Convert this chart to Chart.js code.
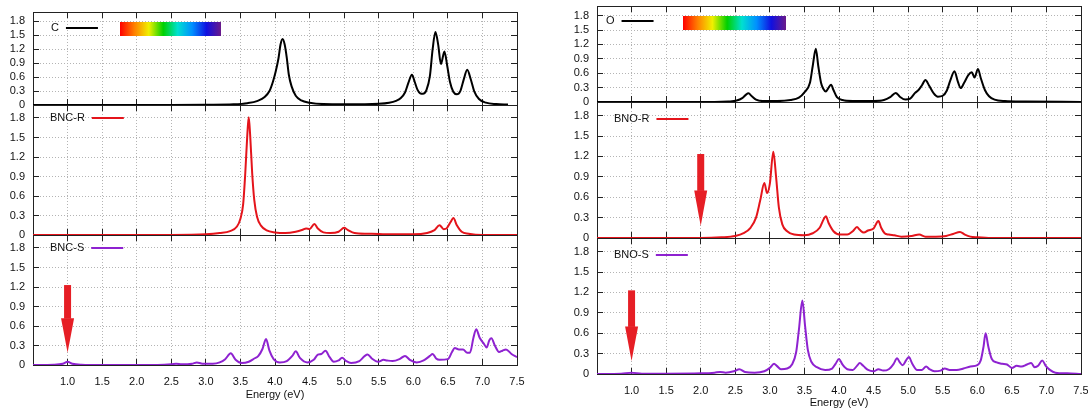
<!DOCTYPE html>
<html><head><meta charset="utf-8">
<script src="https://cdn.jsdelivr.net/npm/chart.js@4.4.1/dist/chart.umd.min.js"></script>
<style>
html,body{margin:0;padding:0;background:#fff;width:1088px;height:412px;overflow:hidden;position:relative}
canvas{position:absolute}
</style></head><body>
<canvas id="c1"></canvas><canvas id="c2"></canvas><canvas id="c3"></canvas>
<canvas id="c4"></canvas><canvas id="c5"></canvas><canvas id="c6"></canvas>
<script>
// ---------- data ----------
const xTicks = [0.5,1.0,1.5,2.0,2.5,3.0,3.5,4.0,4.5,5.0,5.5,6.0,6.5,7.0,7.5];
const yTicks = [0,0.3,0.6,0.9,1.2,1.5,1.8];

// C
const cE = [0.5,2.5,3.0,3.4,3.6,3.75,3.85,3.92,3.97,4.01,4.05,4.08,4.11,4.14,4.17,4.2,4.24,4.3,4.38,4.5,4.7,5.0,5.3,5.5,5.65,5.75,5.82,5.88,5.93,5.98,6.02,6.06,6.1,6.14,6.19,6.24,6.28,6.32,6.36,6.4,6.45,6.49,6.53,6.58,6.63,6.68,6.73,6.78,6.83,6.88,6.95,7.05,7.2,7.37];
const cI = [0,0,0.005,0.015,0.04,0.09,0.17,0.3,0.5,0.72,1.0,1.3,1.42,1.3,1.02,0.65,0.4,0.2,0.1,0.05,0.02,0.015,0.015,0.025,0.05,0.09,0.15,0.27,0.48,0.65,0.5,0.33,0.25,0.24,0.32,0.62,1.2,1.57,1.3,0.88,1.15,0.85,0.5,0.28,0.23,0.3,0.55,0.76,0.56,0.3,0.13,0.05,0.02,0.01];
// BNC-R
const bncrE = [0.5,2.5,3.0,3.2,3.35,3.45,3.5,3.54,3.57,3.6,3.62,3.64,3.67,3.7,3.74,3.8,3.88,4.0,4.15,4.3,4.4,4.45,4.5,4.57,4.62,4.7,4.8,4.92,5.0,5.05,5.15,5.3,5.4,5.6,6.0,6.2,6.3,6.38,6.44,6.48,6.54,6.58,6.63,6.7,6.8,7.0,7.5];
const bncrI = [0,0,0.01,0.03,0.06,0.13,0.25,0.48,0.95,1.55,1.81,1.55,0.95,0.54,0.28,0.14,0.07,0.04,0.03,0.05,0.08,0.1,0.09,0.17,0.1,0.04,0.03,0.05,0.11,0.08,0.03,0.02,0.02,0.01,0.01,0.03,0.07,0.15,0.09,0.1,0.2,0.26,0.15,0.05,0.02,0,0];
// BNC-S
const bncsE = [0.5,0.8,0.93,1.0,1.07,1.2,1.5,2.3,2.5,2.57,2.65,2.8,2.87,2.95,3.1,3.2,3.28,3.36,3.43,3.52,3.62,3.7,3.76,3.82,3.87,3.92,3.98,4.07,4.17,4.25,4.3,4.36,4.47,4.56,4.62,4.67,4.73,4.79,4.85,4.92,4.97,5.03,5.1,5.22,5.3,5.34,5.4,5.49,5.57,5.62,5.7,5.8,5.88,5.95,6.05,6.15,6.24,6.28,6.33,6.38,6.5,6.56,6.6,6.66,6.72,6.78,6.82,6.87,6.91,6.96,7.02,7.06,7.1,7.13,7.18,7.24,7.29,7.34,7.42,7.5];
const bncsI = [0,0.005,0.02,0.05,0.02,0.005,0,0,0.01,0.02,0.01,0.02,0.04,0.02,0.02,0.04,0.09,0.18,0.08,0.03,0.05,0.1,0.14,0.25,0.4,0.22,0.09,0.04,0.06,0.14,0.21,0.11,0.04,0.08,0.16,0.17,0.22,0.12,0.05,0.07,0.11,0.06,0.03,0.06,0.14,0.16,0.1,0.05,0.08,0.07,0.06,0.09,0.14,0.08,0.04,0.07,0.14,0.17,0.1,0.08,0.09,0.2,0.26,0.24,0.24,0.19,0.19,0.42,0.55,0.42,0.33,0.27,0.38,0.41,0.3,0.2,0.22,0.24,0.17,0.12];
// O
const oE = [0.5,2.2,2.4,2.52,2.6,2.66,2.69,2.74,2.8,2.9,3.1,3.3,3.42,3.5,3.58,3.62,3.665,3.7,3.74,3.77,3.81,3.85,3.885,3.92,3.97,4.05,4.2,4.5,4.65,4.74,4.82,4.88,4.96,5.03,5.1,5.15,5.2,5.25,5.3,5.37,5.43,5.5,5.56,5.61,5.67,5.72,5.76,5.81,5.87,5.92,5.96,6.01,6.05,6.11,6.17,6.25,6.4,6.7,7.5];
const oI = [0,0,0.01,0.03,0.08,0.16,0.18,0.12,0.05,0.02,0.02,0.04,0.09,0.2,0.4,0.75,1.11,0.75,0.4,0.28,0.22,0.3,0.36,0.25,0.1,0.04,0.02,0.02,0.04,0.1,0.19,0.11,0.05,0.07,0.19,0.25,0.35,0.46,0.35,0.18,0.11,0.13,0.24,0.45,0.64,0.42,0.29,0.4,0.56,0.62,0.51,0.69,0.5,0.25,0.12,0.05,0.02,0.01,0];
// BNO-R
const bnorE = [0.5,2.0,2.3,2.5,2.62,2.72,2.8,2.86,2.92,2.96,3.0,3.05,3.09,3.13,3.18,3.25,3.35,3.5,3.62,3.72,3.78,3.81,3.85,3.92,4.02,4.12,4.2,4.26,4.3,4.36,4.42,4.5,4.57,4.61,4.66,4.72,4.8,4.9,5.05,5.16,5.25,5.4,5.55,5.65,5.75,5.82,5.9,6.0,6.2,7.5];
const bnorI = [0,0,0.01,0.03,0.07,0.15,0.3,0.55,0.81,0.66,0.8,1.27,0.9,0.45,0.2,0.1,0.05,0.04,0.07,0.15,0.28,0.32,0.22,0.1,0.05,0.05,0.1,0.16,0.12,0.08,0.11,0.14,0.25,0.15,0.07,0.05,0.04,0.02,0.03,0.05,0.02,0.02,0.03,0.06,0.09,0.05,0.02,0.01,0,0];
// BNO-S
const bnosE = [0.5,0.85,1.0,1.15,1.5,2.0,2.2,2.28,2.36,2.48,2.56,2.64,2.78,2.92,3.0,3.06,3.1,3.16,3.25,3.32,3.38,3.42,3.47,3.51,3.55,3.6,3.68,3.8,3.9,3.95,4.0,4.05,4.12,4.2,4.26,4.3,4.35,4.42,4.5,4.57,4.64,4.72,4.79,4.84,4.88,4.92,4.97,5.01,5.06,5.13,5.2,5.26,5.31,5.38,5.47,5.53,5.6,5.7,5.8,5.9,6.0,6.05,6.09,6.12,6.16,6.21,6.28,6.36,6.43,6.5,6.57,6.64,6.72,6.78,6.83,6.88,6.94,6.99,7.05,7.13,7.3,7.5];
const bnosI = [0,0.005,0.02,0.005,0.005,0.01,0.02,0.03,0.02,0.04,0.07,0.03,0.02,0.04,0.09,0.15,0.12,0.07,0.08,0.14,0.32,0.65,1.08,0.7,0.35,0.18,0.1,0.06,0.08,0.15,0.22,0.14,0.07,0.06,0.12,0.16,0.12,0.06,0.04,0.07,0.05,0.07,0.15,0.23,0.17,0.13,0.2,0.25,0.15,0.06,0.06,0.11,0.07,0.04,0.05,0.08,0.06,0.06,0.08,0.11,0.13,0.2,0.4,0.6,0.4,0.22,0.17,0.15,0.14,0.09,0.12,0.11,0.14,0.16,0.1,0.12,0.2,0.12,0.06,0.02,0.01,0];

// ---------- layout ----------
const FONT = '"Liberation Sans",Arial,Helvetica,sans-serif';
const FS = 11;
const YW = 33, PT = 10, PR = 8;
const RAINBOW = ['#ff0000','#ff8000','#f0f000','#00d000','#00e0d0','#0090ff','#1010e0','#6a1a8a'];

const PANELS = [
  {id:'c1', left:33, top:12, w:484, h:93, bottom:false, E:cE, I:cI, color:'#000000', name:'C', ldx:18, ldy:16, bar:{dx:87,dy:10,w:101,h:14}},
  {id:'c2', left:33, top:105, w:484, h:130, bottom:false, E:bncrE, I:bncrI, color:'#e4141b', name:'BNC-R', ldx:17, ldy:13},
  {id:'c3', left:33, top:235, w:484, h:130, bottom:true, E:bncsE, I:bncsI, color:'#8e22d0', name:'BNC-S', ldx:17, ldy:13, arrow:{x:1.0,top:1.23,head:0.72,tip:0.19}, tpad:8},
  {id:'c4', left:597, top:6, w:484, h:96, bottom:false, E:oE, I:oI, color:'#000000', name:'O', ldx:9, ldy:15, bar:{dx:86,dy:10,w:103,h:14}},
  {id:'c5', left:597, top:102, w:484, h:136, bottom:false, E:bnorE, I:bnorI, color:'#e4141b', name:'BNO-R', ldx:17, ldy:17, arrow:{x:2.0,top:1.235,head:0.70,tip:0.175}},
  {id:'c6', left:597, top:238, w:484, h:136, bottom:true, E:bnosE, I:bnosI, color:'#8e22d0', name:'BNO-S', ldx:17, ldy:17, arrow:{x:1.0,top:1.23,head:0.70,tip:0.19}, tpad:9}
];

const decoPlugin = {
  id: 'deco',
  afterDatasetsDraw(chart) {
    const p = chart.options.plugins.deco;
    const ctx = chart.ctx, a = chart.chartArea;
    ctx.save();
    // legend
    ctx.font = FS + 'px ' + FONT;
    ctx.fillStyle = '#111';
    ctx.textBaseline = 'middle';
    ctx.textAlign = 'left';
    const tx = a.left + p.ldx, ty = a.top + p.ldy;
    ctx.fillText(p.name, tx, ty);
    const tw = ctx.measureText(p.name).width;
    ctx.strokeStyle = p.color; ctx.lineWidth = 2;
    ctx.beginPath(); ctx.moveTo(tx + tw + 7, ty); ctx.lineTo(tx + tw + 39, ty); ctx.stroke();
    // colour bar
    if (p.bar) {
      const b = p.bar;
      const g = ctx.createLinearGradient(a.left + b.dx, 0, a.left + b.dx + b.w, 0);
      RAINBOW.forEach((c, i) => g.addColorStop(i / (RAINBOW.length - 1), c));
      ctx.fillStyle = g;
      ctx.fillRect(a.left + b.dx, a.top + b.dy, b.w, b.h);
    }
    // arrow
    if (p.arrow) {
      const r = p.arrow, xs = chart.scales.x, ys = chart.scales.y;
      const cx = xs.getPixelForValue(r.x);
      const y0 = ys.getPixelForValue(r.top), y1 = ys.getPixelForValue(r.head), y2 = ys.getPixelForValue(r.tip);
      ctx.fillStyle = '#e61e25';
      ctx.fillRect(cx - 3.5, y0, 7, y1 - y0 + 0.5);
      ctx.beginPath(); ctx.moveTo(cx - 6.5, y1); ctx.lineTo(cx + 6.5, y1); ctx.lineTo(cx, y2); ctx.closePath(); ctx.fill();
    }
    ctx.restore();
  }
};

function gridOpts(onArea) {
  return {drawOnChartArea: onArea, color: '#b4b4b4', lineWidth: 1, tickLength: -6, tickColor: '#222', tickWidth: 1, tickBorderDash: []};
}
const borderOpts = {display: true, color: '#222', width: 1, dash: [1, 2]};

PANELS.forEach(P => {
  const XH = P.bottom ? 45 : 10;
  const cv = document.getElementById(P.id);
  const W = YW + P.w + PR, H = PT + P.h + XH;
  cv.width = W; cv.height = H;
  cv.style.left = (P.left - YW) + 'px';
  cv.style.top = (P.top - PT) + 'px';
  cv.style.width = W + 'px'; cv.style.height = H + 'px';
  const pts = P.E.map((e, i) => ({x: e, y: P.I[i]}));
  new Chart(cv, {
    type: 'line',
    data: {datasets: [{data: pts, borderColor: P.color, borderWidth: 2, pointRadius: 0, fill: false, cubicInterpolationMode: 'monotone'}]},
    options: {
      responsive: false, animation: false, events: [],
      layout: {padding: {top: PT, right: PR, left: 0, bottom: 0}},
      plugins: {legend: {display: false}, tooltip: {enabled: false},
        deco: {name: P.name, color: P.color, ldx: P.ldx, ldy: P.ldy, bar: P.bar, arrow: P.arrow}},
      scales: {
        x: {type: 'linear', position: 'bottom', min: 0.5, max: 7.5,
          afterBuildTicks: s => { s.ticks = xTicks.map(v => ({value: v})); },
          afterFit: s => { s.height = XH; s.paddingLeft = 0; s.paddingRight = 0; },
          grid: gridOpts(true), border: borderOpts,
          ticks: {display: P.bottom, padding: 16, color: '#111', autoSkip: false, maxRotation: 0,
            font: {family: FONT, size: FS},
            callback: v => (v === 0.5 ? '' : Number(v).toFixed(1))},
          title: {display: P.bottom, text: 'Energy (eV)', color: '#111', font: {family: FONT, size: FS}, padding: {top: 0, bottom: P.tpad || 8}}
        },
        x2: {type: 'linear', position: 'top', min: 0.5, max: 7.5,
          afterBuildTicks: s => { s.ticks = xTicks.map(v => ({value: v})); },
          afterFit: s => { s.height = 0; s.paddingLeft = 0; s.paddingRight = 0; },
          grid: gridOpts(false), border: borderOpts, ticks: {display: false}
        },
        y: {type: 'linear', position: 'left', min: 0, max: 2.0,
          afterBuildTicks: s => { s.ticks = yTicks.map(v => ({value: v})); },
          afterFit: s => { s.width = YW; s.paddingTop = 0; s.paddingBottom = 0; },
          grid: gridOpts(true), border: borderOpts,
          ticks: {padding: 14, color: '#111', autoSkip: false, font: {family: FONT, size: FS},
            callback: v => (v === 0 ? '0' : Number(v).toFixed(1))}
        },
        y2: {type: 'linear', position: 'right', min: 0, max: 2.0,
          afterBuildTicks: s => { s.ticks = yTicks.map(v => ({value: v})); },
          afterFit: s => { s.width = 0; s.paddingTop = 0; s.paddingBottom = 0; },
          grid: gridOpts(false), border: borderOpts, ticks: {display: false, autoSkip: false}
        }
      }
    },
    plugins: [decoPlugin]
  });
});
</script>
</body></html>
